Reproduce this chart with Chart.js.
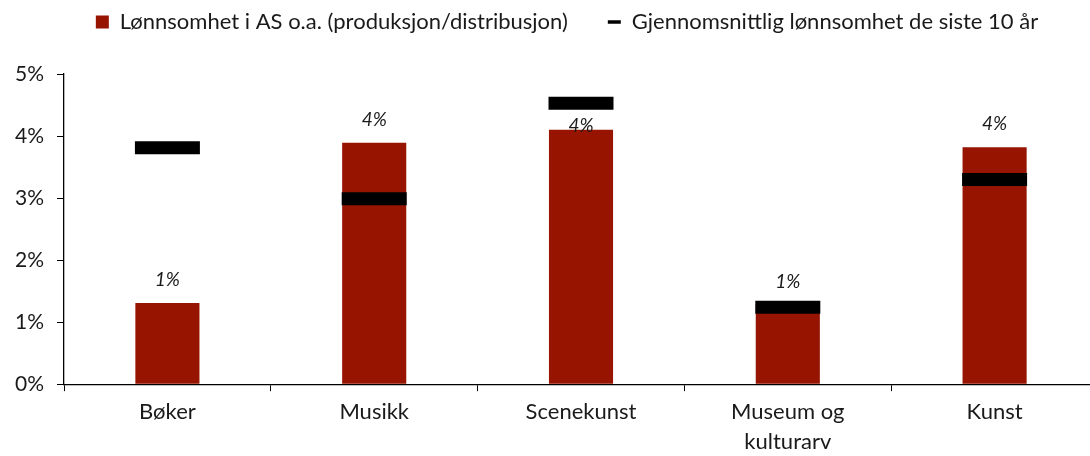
<!DOCTYPE html>
<html>
<head>
<meta charset="utf-8">
<script src="https://cdn.jsdelivr.net/npm/chart.js@4.4.1/dist/chart.umd.min.js"></script>
<style>
  html, body { margin: 0; padding: 0; background: #fff; overflow: hidden; }
  #wrap { width: 1098px; height: 456px; }
</style>
</head>
<body>
<div id="wrap"><canvas id="chart"></canvas></div>
<script>
// categories and values (percent)
var categories = ['Bøker', 'Musikk', 'Scenekunst', ['Museum og', 'kulturarv'], 'Kunst'];
var lonnsomhet = [1.31, 3.89, 4.10, 1.28, 3.82];
var snitt10 = [3.81, 2.99, 4.53, 1.24, 3.30];
var yTicks = [0, 1, 2, 3, 4, 5];

var labelLift = [23, 23, 4, 23, 23]; // distance of value label above bar top

var FONT = 'Lato, "Liberation Sans", sans-serif';

// value labels above the bars
var valueLabels = {
  id: 'valueLabels',
  afterDatasetsDraw: function (chart) {
    var meta = chart.getDatasetMeta(0);
    var ctx = chart.ctx;
    ctx.save();
    ctx.font = 'italic 19px ' + FONT;
    ctx.fillStyle = '#1a1a1a';
    ctx.textAlign = 'center';
    ctx.textBaseline = 'middle';
    meta.data.forEach(function (bar, i) {
      ctx.fillText(Math.round(lonnsomhet[i]) + '%', bar.x, bar.y - labelLift[i]);
    });
    ctx.restore();
  }
};

// extra room under legend, legend nudged right
var legendTweak = {
  id: 'legendTweak',
  beforeInit: function (chart) {
    var lg = chart.legend;
    var fit = lg.fit;
    lg.fit = function () {
      fit.call(lg);
      lg.height += 31;
    };
    var draw = lg.draw;
    lg.draw = function () {
      chart.ctx.save();
      chart.ctx.translate(17, 0);
      draw.apply(lg, arguments);
      chart.ctx.restore();
    };
  }
};

new Chart(document.getElementById('chart'), {
  data: {
    labels: categories,
    datasets: [{
      type: 'bar',
      label: 'Lønnsomhet i AS o.a. (produksjon/distribusjon)',
      data: lonnsomhet,
      backgroundColor: '#961400',
      borderWidth: 0,
      barPercentage: 0.31,
      categoryPercentage: 1,
      pointStyle: 'rect',
      order: 2
    },
    {
      type: 'line',
      label: 'Gjennomsnittlig lønnsomhet de siste 10 år',
      data: snitt10,
      showLine: false,
      pointStyle: 'line',
      pointRadius: 32.5,
      pointHoverRadius: 32.5,
      pointBorderWidth: 13,
      pointHoverBorderWidth: 13,
      borderColor: '#000',
      backgroundColor: '#000',
      clip: false,
      order: 1
    }]
  },
  options: {
    responsive: true,
    maintainAspectRatio: false,
    animation: false,
    layout: { autoPadding: false, padding: { left: 2, right: 0, top: -29, bottom: -7 } },
    plugins: {
      legend: {
        position: 'top',
        labels: {
          usePointStyle: true,
          boxWidth: 13,
          boxHeight: 13,
          pointStyleWidth: 13,
          padding: 40,
          color: '#1a1a1a',
          font: { family: FONT, size: 22 },
          sort: function (a, b) { return a.datasetIndex - b.datasetIndex; },
          generateLabels: function (chart) {
            var items = Chart.defaults.plugins.legend.labels.generateLabels(chart);
            items.forEach(function (it) {
              if (it.datasetIndex === 1) { it.lineWidth = 3.5; }
            });
            return items;
          }
        }
      },
      tooltip: { enabled: false }
    },
    scales: {
      x: {
        offset: true,
        grid: {
          display: true,
          offset: true,
          drawOnChartArea: false,
          drawTicks: true,
          tickLength: 7,
          color: '#000'
        },
        border: { display: true, color: '#000', width: 1.3 },
        ticks: {
          color: '#1a1a1a',
          padding: 6,
          maxRotation: 0,
          font: { family: FONT, size: 22, lineHeight: 1.36 }
        }
      },
      y: {
        min: 0,
        max: 5,
        afterBuildTicks: function (axis) {
          axis.ticks = yTicks.map(function (v) { return { value: v }; });
        },
        grid: {
          display: true,
          drawOnChartArea: false,
          drawTicks: true,
          tickLength: 7,
          color: '#000'
        },
        border: { display: true, color: '#000', width: 1.3 },
        ticks: {
          color: '#1a1a1a',
          padding: 13,
          font: { family: FONT, size: 21 },
          callback: function (v) { return v + '%'; }
        }
      }
    }
  },
  plugins: [valueLabels, legendTweak]
});
</script>
</body>
</html>
